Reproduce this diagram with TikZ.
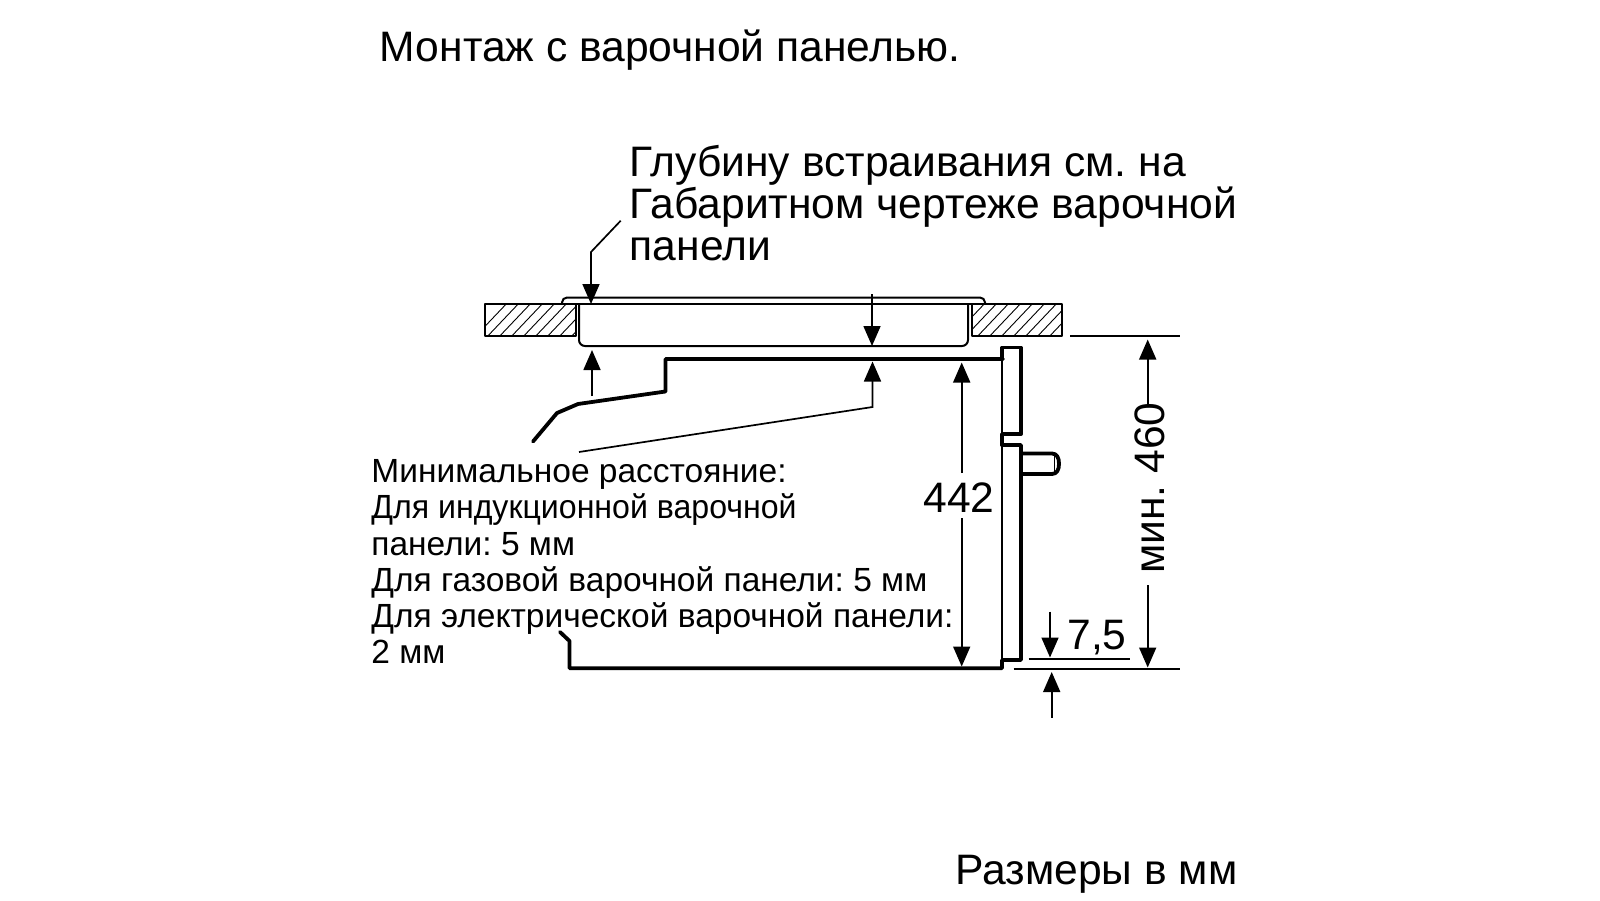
\documentclass[tikz,border=0pt]{standalone}
\usepackage{fontspec}
\setmainfont{Liberation Sans}
\usetikzlibrary{arrows.meta}
\frenchspacing
\tikzset{
  thinl/.style={line width=0.8pt,line cap=round,line join=round},
  thickl/.style={line width=1.9pt,line cap=round,line join=round},
  medl/.style={line width=1pt,line join=round},
  dim/.style={line width=0.85pt,-{Triangle[width=8.5pt,length=10pt]}},
  ext/.style={line width=0.9pt},
  big/.style={anchor=base west,inner sep=0pt,font=\fontsize{21.3}{24}\selectfont},
  small/.style={anchor=base west,inner sep=0pt,font=\fontsize{16.75}{20}\selectfont},
  hatchl/.style={line width=0.45pt}
}
\begin{document}
\begin{tikzpicture}[x=0.5pt,y=-0.5pt]
\useasboundingbox (0,0) rectangle (1600,900);
% texts
\node[big] (title) at (379.5,61) {Монтаж с варочной панелью.};
\node[big] (b1) at (629.5,176) {Глубину встраивания см. на};
\node[big] (b2) at (629.5,218) {Габаритном чертеже варочной};
\node[big] (b3) at (629.5,260) {панели};
\node[small] (s1) at (371,482) {Минимальное расстояние:};
\node[small,xscale=0.958] (s2) at (371,518) {Для индукционной варочной};
\node[small] (s3) at (371,555) {панели: 5 мм};
\node[small] (s4) at (371,591) {Для газовой варочной панели: 5 мм};
\node[small] (s5) at (371,627) {Для электрической варочной панели:};
\node[small] (s6) at (371,663) {2 мм};
\node[big] (foot) at (955,884) {Размеры в мм};
\node[big,anchor=center] (n442) at (959,498) {442};
\node[big,anchor=center] (n75) at (1097,638) {7,5};
\node[big,anchor=center,rotate=90] (n460) at (1150,488) {мин. 460};
% hatching
\begin{scope}
\clip (484.5,304) rectangle (576,336);
\foreach \i in {0,...,11}{\draw[hatchl] ({472+\i*12},340) -- ({510+\i*12},300);}
\end{scope}
\begin{scope}
\clip (971.5,304) rectangle (1062,336);
\foreach \i in {0,...,11}{\draw[hatchl] ({950+\i*12},340) -- ({988+\i*12},300);}
\end{scope}
\draw[medl] (576,304) -- (484.5,304) -- (484.5,336) -- (576,336) -- cycle;
\draw[medl] (971.5,336) -- (1062,336) -- (1062,304) -- (971.5,304) -- cycle;
% hob
\draw[medl,rounded corners=2.5pt] (562,304) -- (562,297.5) -- (985,297.5) -- (985,304);
\draw[medl] (576,304) -- (971.5,304);
\draw[medl,rounded corners=3pt] (579,304) -- (579,346) -- (968,346) -- (968,304);
% oven
\draw[thickl] (1003,359) -- (665.5,359) -- (665.5,391.5) -- (578,404) -- (557,413) -- (533,441.5);
\draw[thickl] (560,632) -- (569.5,641) -- (569.5,668.3) -- (1002,668.3) -- (1002,660) -- (1021,660) -- (1021,445) -- (1002,445);
\draw[thinl] (1002,445) -- (1002,660);
\draw[thickl] (1002,359) -- (1002,347.5) -- (1021,347.5) -- (1021,434) -- (1002,434) -- (1002,445);
\draw[thinl] (1002,359) -- (1002,434);
% knob
\draw[thickl] (1021,453.5) -- (1052,453.5) .. controls (1057,453.5) and (1059,458) .. (1059,463.75) .. controls (1059,469.5) and (1057,474) .. (1052,474) -- (1021,474);
\draw[thinl] (1054.5,455) -- (1054.5,472.5);
% coordinates
\coordinate (lead0) at (620.7,220.7);
\coordinate (lead1) at (591,252);
\coordinate (lead2) at (591,304);
\coordinate (a2s) at (872,294);
\coordinate (a2e) at (872,346);
\coordinate (a3s) at (592,396);
\coordinate (a3e) at (592,350);
\coordinate (a4s) at (579,452);
\coordinate (a4m) at (872.5,407);
\coordinate (a4e) at (872.5,361.5);
\coordinate (t442) at (961.7,362.5);
\coordinate (b442) at (961.7,666.5);
\coordinate (s442) at (961.7,473);
\coordinate (e442) at (961.7,518);
\coordinate (t460) at (1147.7,339.5);
\coordinate (b460) at (1147.7,667.5);
\coordinate (s460) at (1147.7,405);
\coordinate (e460) at (1147.7,585);
\coordinate (l1) at (1070,336);
\coordinate (l2) at (1180,336);
\coordinate (l3) at (1013.5,669.3);
\coordinate (l4) at (1179.5,669.3);
\coordinate (l5) at (1028.5,659.3);
\coordinate (l6) at (1130,659.3);
\coordinate (a5s) at (1050,611.5);
\coordinate (a5e) at (1050,657.5);
\coordinate (a6s) at (1051.7,717.5);
\coordinate (a6e) at (1051.7,672);
% connectors
\draw[dim] (lead0) -- (lead1) -- (lead2);
\draw[dim] (a2s) -- (a2e);
\draw[dim] (a3s) -- (a3e);
\draw[dim] (a4s) -- (a4m) -- (a4e);
\draw[dim] (s442) -- (t442);
\draw[dim] (e442) -- (b442);
\draw[dim] (s460) -- (t460);
\draw[dim] (e460) -- (b460);
\draw[ext] (l1) -- (l2);
\draw[ext] (l3) -- (l4);
\draw[ext] (l5) -- (l6);
\draw[dim] (a5s) -- (a5e);
\draw[dim] (a6s) -- (a6e);
\end{tikzpicture}
\end{document}
